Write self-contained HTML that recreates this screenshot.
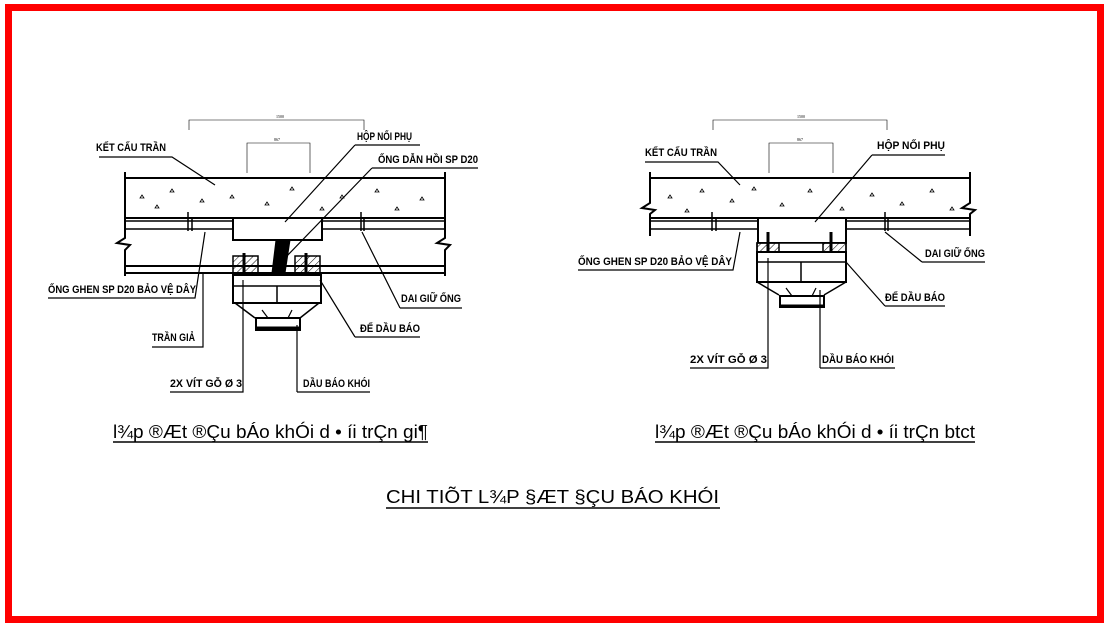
<!DOCTYPE html>
<html><head><meta charset="utf-8"><style>
html,body{margin:0;padding:0;background:#fff;}
svg{display:block;}
.l{font-family:"Liberation Sans",sans-serif;font-weight:bold;font-size:11px;fill:#000;}
.c{font-family:"Liberation Sans",sans-serif;font-size:18px;fill:#000;}
</style></head><body>
<svg width="1110" height="627" viewBox="0 0 1110 627" xmlns="http://www.w3.org/2000/svg">
<defs>
<pattern id="h" width="5" height="5" patternUnits="userSpaceOnUse" patternTransform="rotate(45)">
<line x1="0" y1="0" x2="0" y2="5" stroke="#000" stroke-width="1"/></pattern>
</defs>
<rect x="8.5" y="7.5" width="1092" height="612" fill="none" stroke="#f00" stroke-width="7"/>

<!-- LEFT DRAWING -->
<g stroke="#000" fill="none" stroke-width="1">
<path d="M189 130 V120 H364 V130" stroke-width="0.6"/>
<text x="276" y="118" font-size="4" fill="#000" stroke="none">1500</text>
<path d="M247 173 V143 H310 V173" stroke-width="0.6"/>
<text x="274" y="141" font-size="4" fill="#000" stroke="none">867</text>
<path d="M125 172 V238 L117 243 L130 245 L125 250 V276" stroke-width="2"/>
<path d="M445 172 V238 L437 243 L450 245 L445 250 V276" stroke-width="2"/>
<line x1="125" y1="178" x2="445" y2="178" stroke-width="2"/>
<line x1="125" y1="218" x2="445" y2="218" stroke-width="2"/>
<g stroke-width="0.8">
<path d="M170 192 l2 -3 l2 3 z M200 202 l2 -3 l2 3 z M155 208 l2 -3 l2 3 z M230 198 l2 -3 l2 3 z M265 205 l2 -3 l2 3 z M290 190 l2 -3 l2 3 z M320 210 l2 -3 l2 3 z M340 198 l2 -3 l2 3 z M375 192 l2 -3 l2 3 z M395 210 l2 -3 l2 3 z M420 200 l2 -3 l2 3 z M140 198 l2 -3 l2 3 z"/>
</g>
<path d="M125 221 H233 M125 229 H233 M322 221 H445 M322 229 H445" stroke-width="1.5"/>
<path d="M188 212 V231 M192 218 V231 M361 212 V231 M364 218 V231" stroke-width="1.5"/>
<line x1="125" y1="266" x2="445" y2="266" stroke-width="2"/>
<line x1="125" y1="273" x2="445" y2="273" stroke-width="2"/>
<rect x="233" y="218" width="89" height="22" stroke-width="2" fill="#fff"/>
<path d="M276 240 L272 273 H285 L290 240 Z" fill="#000"/>
<rect x="233" y="256" width="25" height="17" fill="url(#h)" stroke-width="1.5"/>
<rect x="295" y="256" width="25" height="17" fill="url(#h)" stroke-width="1.5"/>
<path d="M244 253 V280 M306 253 V280" stroke-width="3"/>
<rect x="233" y="275" width="88" height="28" stroke-width="2" fill="#fff"/>
<path d="M233 286 H321 M277 286 V303" stroke-width="1.5"/>
<path d="M235 303 L255 318 M319 303 L300 318" stroke-width="1.5"/>
<rect x="256" y="318" width="44" height="12" stroke-width="2"/>
<path d="M257 328 H299" stroke-width="3"/>
<path d="M262 310 L268 318 M292 310 L288 318" stroke-width="1.2"/>
<!-- leaders -->
<path d="M99 157 H172 L215 185" stroke-width="1.2"/>
<path d="M355 145 H420 M355 145 L285 222" stroke-width="1.2"/>
<path d="M372 168 H478 M372 168 L285 258" stroke-width="1.2"/>
<path d="M48 298 H195 L205 232" stroke-width="1.2"/>
<path d="M152 347 H203 V273" stroke-width="1.2"/>
<path d="M170 392 H243 V280" stroke-width="1.2"/>
<path d="M297 392 H370 M297 392 V325" stroke-width="1.2"/>
<path d="M355 337 H420 M355 337 L320 280" stroke-width="1.2"/>
<path d="M400 308 H462 M400 308 L362 232" stroke-width="1.2"/>
</g>
<g class="l">
<text x="96" y="151" textLength="70" lengthAdjust="spacingAndGlyphs">KẾT CẤU TRẦN</text>
<text x="357" y="140" textLength="55" lengthAdjust="spacingAndGlyphs">HỘP NỐI PHỤ</text>
<text x="378" y="163" textLength="100" lengthAdjust="spacingAndGlyphs">ỐNG DẪN HỒI SP D20</text>
<text x="48" y="293" textLength="148" lengthAdjust="spacingAndGlyphs">ỐNG GHEN SP D20 BẢO VỆ DÂY</text>
<text x="152" y="341" textLength="43" lengthAdjust="spacingAndGlyphs">TRẦN GIẢ</text>
<text x="170" y="387" textLength="72" lengthAdjust="spacingAndGlyphs">2X VÍT GỖ Ø 3</text>
<text x="303" y="387" textLength="67" lengthAdjust="spacingAndGlyphs">DẦU BÁO KHÓI</text>
<text x="360" y="332" textLength="60" lengthAdjust="spacingAndGlyphs">ĐẾ DẦU BÁO</text>
<text x="401" y="302" textLength="60" lengthAdjust="spacingAndGlyphs">DAI GIỮ ỐNG</text>
</g>

<!-- RIGHT DRAWING -->
<g stroke="#000" fill="none" stroke-width="1">
<path d="M713 130 V120 H887 V130" stroke-width="0.6"/>
<text x="797" y="118" font-size="4" fill="#000" stroke="none">1500</text>
<path d="M769 173 V143 H833 V173" stroke-width="0.6"/>
<text x="797" y="141" font-size="4" fill="#000" stroke="none">867</text>
<path d="M650 172 V203 L642 208 L655 210 L650 214 V236" stroke-width="2"/>
<path d="M970 172 V203 L962 208 L975 210 L970 214 V236" stroke-width="2"/>
<line x1="650" y1="178" x2="970" y2="178" stroke-width="2"/>
<line x1="650" y1="218" x2="970" y2="218" stroke-width="2"/>
<g stroke-width="0.8">
<path d="M668 198 l2 -3 l2 3 z M700 192 l2 -3 l2 3 z M685 212 l2 -3 l2 3 z M730 202 l2 -3 l2 3 z M752 190 l2 -3 l2 3 z M780 206 l2 -3 l2 3 z M808 192 l2 -3 l2 3 z M840 210 l2 -3 l2 3 z M870 196 l2 -3 l2 3 z M900 205 l2 -3 l2 3 z M930 192 l2 -3 l2 3 z M950 210 l2 -3 l2 3 z"/>
</g>
<path d="M650 221 H758 M650 229 H758 M846 221 H970 M846 229 H970" stroke-width="1.5"/>
<path d="M712 212 V231 M716 218 V231 M885 212 V231 M888 218 V231" stroke-width="1.5"/>
<rect x="758" y="218" width="88" height="25" stroke-width="2" fill="#fff"/>
<rect x="757" y="243" width="89" height="9" stroke-width="1.5" fill="#fff"/>
<rect x="757" y="243" width="22" height="9" fill="url(#h)" stroke-width="1.5"/>
<rect x="823" y="243" width="23" height="9" fill="url(#h)" stroke-width="1.5"/>
<path d="M768 232 V258 M831 232 V258" stroke-width="3"/>
<rect x="757" y="252" width="89" height="30" stroke-width="2" fill="#fff"/>
<path d="M757 262 H846 M801 262 V282" stroke-width="1.5"/>
<path d="M757 282 L779 295 M846 282 L824 295" stroke-width="1.5"/>
<rect x="780" y="296" width="44" height="11" stroke-width="2"/>
<path d="M781 306 H823" stroke-width="3"/>
<path d="M786 288 L792 296 M816 288 L812 296" stroke-width="1.2"/>
<!-- leaders -->
<path d="M645 162 H718 L740 185" stroke-width="1.2"/>
<path d="M872 155 H945 M872 155 L815 222" stroke-width="1.2"/>
<path d="M578 270 H733 L740 232" stroke-width="1.2"/>
<path d="M922 262 H985 M922 262 L885 232" stroke-width="1.2"/>
<path d="M885 306 H945 M885 306 L846 262" stroke-width="1.2"/>
<path d="M690 368 H768 V258" stroke-width="1.2"/>
<path d="M820 368 H895 M820 368 V290" stroke-width="1.2"/>
</g>
<g class="l">
<text x="645" y="156" textLength="72" lengthAdjust="spacingAndGlyphs">KẾT CẤU TRẦN</text>
<text x="877" y="149" textLength="68" lengthAdjust="spacingAndGlyphs">HỘP NỐI PHỤ</text>
<text x="578" y="265" textLength="154" lengthAdjust="spacingAndGlyphs">ỐNG GHEN SP D20 BẢO VỆ DÂY</text>
<text x="925" y="257" textLength="60" lengthAdjust="spacingAndGlyphs">DAI GIỮ ỐNG</text>
<text x="885" y="301" textLength="60" lengthAdjust="spacingAndGlyphs">ĐẾ DẦU BÁO</text>
<text x="690" y="363" textLength="77" lengthAdjust="spacingAndGlyphs">2X VÍT GỖ Ø 3</text>
<text x="822" y="363" textLength="72" lengthAdjust="spacingAndGlyphs">DẦU BÁO KHÓI</text>
</g>

<!-- captions -->
<text class="c" x="113" y="438" textLength="315" lengthAdjust="spacingAndGlyphs">l¾p ®Æt ®Çu bÁo khÓi d • íi trÇn gi¶</text>
<line x1="113" y1="442" x2="428" y2="442" stroke="#000" stroke-width="1.5"/>
<text class="c" x="655" y="438" textLength="320" lengthAdjust="spacingAndGlyphs">l¾p ®Æt ®Çu bÁo khÓi d • íi trÇn btct</text>
<line x1="655" y1="442" x2="975" y2="442" stroke="#000" stroke-width="1.5"/>
<text class="c" x="386" y="503" font-size="24" textLength="333" lengthAdjust="spacingAndGlyphs">CHI TIÕT L¾P §ÆT §ÇU BÁO KHÓI</text>
<line x1="386" y1="508" x2="720" y2="508" stroke="#000" stroke-width="1.5"/>
</svg>
</body></html>
